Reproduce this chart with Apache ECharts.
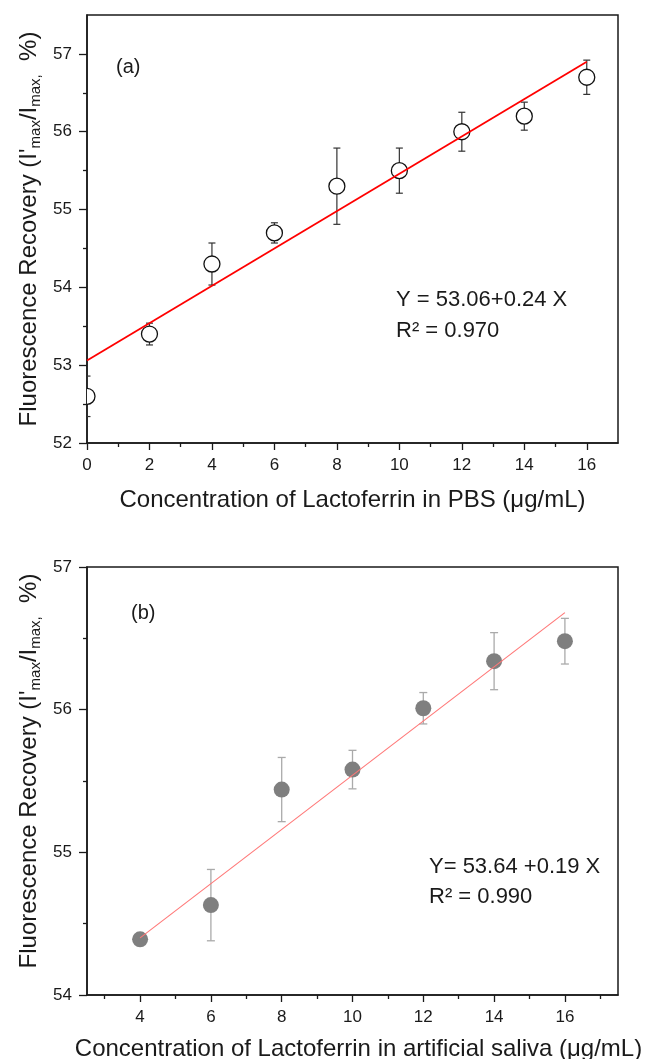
<!DOCTYPE html>
<html>
<head>
<meta charset="utf-8">
<script src="https://cdn.jsdelivr.net/npm/echarts@6/dist/echarts.min.js"></script>
<style>
  html, body { margin: 0; padding: 0; background: #fff; }
  #chart { width: 649px; height: 1059px; }
</style>
</head>
<body>
<div id="chart"></div>
<script>
// Panel (a): lactoferrin in PBS
const concA = [0, 2, 4, 6, 8, 10, 12, 14, 16];
const recoveryA = [52.6, 53.4, 54.3, 54.7, 55.3, 55.5, 56.0, 56.2, 56.7];
const errorA = [0.26, 0.14, 0.27, 0.13, 0.49, 0.29, 0.25, 0.18, 0.22];
const fitA = [53.06, 0.24];          // intercept, slope
const fitRangeA = [0, 16];
const r2A = '0.970';

// Panel (b): lactoferrin in artificial saliva
const concB = [4, 6, 8, 10, 12, 14, 16];
const recoveryB = [54.39, 54.63, 55.44, 55.58, 56.01, 56.34, 56.48];
const errorB = [0, 0.25, 0.225, 0.135, 0.11, 0.2, 0.16];
const fitB = [53.64, 0.19];
const fitRangeB = [4, 16];
const r2B = '0.990';

// Axis ticks
const xMajorA = [0, 2, 4, 6, 8, 10, 12, 14, 16];
const xMinorA = [1, 3, 5, 7, 9, 11, 13, 15];
const yMajorA = [52, 53, 54, 55, 56, 57];
const yMinorA = [52.5, 53.5, 54.5, 55.5, 56.5];
const xMajorB = [4, 6, 8, 10, 12, 14, 16];
const xMinorB = [3, 5, 7, 9, 11, 13, 15, 17];
const yMajorB = [54, 55, 56, 57];
const yMinorB = [54.5, 55.5, 56.5];

const xTitleA = 'Concentration of Lactoferrin in PBS (\u03bcg/mL)';
const xTitleB = 'Concentration of Lactoferrin in artificial saliva (\u03bcg/mL)';
const yTitle = "{m|Fluorescence Recovery (I'}{s|max}{m|/I}{s|max,}{m|  %)}";

const FONT = '"Liberation Sans", Arial, sans-serif';
const INK = '#1a1a1a';

const yTitleRich = {
  m: { fontSize: 24, fontFamily: FONT, color: INK, lineHeight: 26, verticalAlign: 'top' },
  s: { fontSize: 15, fontFamily: FONT, color: INK, lineHeight: 8, verticalAlign: 'bottom' }
};

function fitLine(coef, range) {
  return range.map(x => [x, coef[0] + coef[1] * x]);
}

function majorAxis(gridIndex, min, max, ticks, extra) {
  return Object.assign({
    type: 'value', gridIndex, min, max,
    axisLine: { show: true, onZero: false, lineStyle: { color: INK, width: 1.5 } },
    axisTick: { show: true, inside: false, length: 7, customValues: ticks, lineStyle: { color: INK, width: 1.3 } },
    axisLabel: { show: true, customValues: ticks, fontSize: 17, fontFamily: FONT, color: INK, margin: 14 },
    splitLine: { show: false },
    nameMoveOverlap: false
  }, extra || {});
}

function minorAxis(gridIndex, min, max, ticks, position) {
  return {
    type: 'value', gridIndex, min, max, position,
    axisLine: { show: false, onZero: false },
    axisTick: { show: true, inside: false, length: 4, customValues: ticks, lineStyle: { color: INK, width: 1.3 } },
    axisLabel: { show: false },
    splitLine: { show: false }
  };
}

// error bars with caps and a clipped circular marker per point
function pointRenderer(opts) {
  return function (params, api) {
    const x = api.value(0), y = api.value(1), e = api.value(2);
    const c = api.coord([x, y]);
    const hi = api.coord([x, y + e]);
    const lo = api.coord([x, y - e]);
    const bar = { stroke: opts.barColor, lineWidth: opts.barWidth };
    const children = [];
    if (e > 0) {
      children.push(
        { type: 'line', shape: { x1: hi[0], y1: hi[1], x2: lo[0], y2: lo[1] }, style: bar },
        { type: 'line', shape: { x1: hi[0] - opts.cap, y1: hi[1], x2: hi[0] + opts.cap, y2: hi[1] }, style: bar },
        { type: 'line', shape: { x1: lo[0] - opts.cap, y1: lo[1], x2: lo[0] + opts.cap, y2: lo[1] }, style: bar }
      );
    }
    children.push({
      type: 'circle',
      shape: { cx: c[0], cy: c[1], r: opts.r },
      style: { fill: opts.fill, stroke: opts.stroke, lineWidth: opts.strokeWidth }
    });
    return { type: 'group', children };
  };
}

const chart = echarts.init(document.getElementById('chart'), null, { renderer: 'canvas' });

chart.setOption({
  animation: false,
  backgroundColor: '#fff',
  grid: [
    { left: 87, top: 15, width: 531, height: 428, show: true, borderColor: INK, borderWidth: 1.5,
      backgroundColor: 'transparent', containLabel: false, outerBoundsMode: 'none' },
    { left: 87, top: 567, width: 531, height: 428, show: true, borderColor: INK, borderWidth: 1.5,
      backgroundColor: 'transparent', containLabel: false, outerBoundsMode: 'none' }
  ],
  xAxis: [
    majorAxis(0, 0, 17, xMajorA, {
      position: 'bottom', name: xTitleA, nameLocation: 'middle', nameGap: 45,
      nameTextStyle: { fontSize: 24, fontFamily: FONT, color: INK }
    }),
    minorAxis(0, 0, 17, xMinorA, 'bottom'),
    majorAxis(1, 2.5, 17.5, xMajorB, {
      position: 'bottom', name: xTitleB, nameLocation: 'middle', nameGap: 42,
      nameTextStyle: { fontSize: 24, fontFamily: FONT, color: INK, padding: [0, 0, 0, 12] }
    }),
    minorAxis(1, 2.5, 17.5, xMinorB, 'bottom')
  ],
  yAxis: [
    majorAxis(0, 52, 57.5, yMajorA, {
      position: 'left', name: yTitle, nameLocation: 'middle', nameRotate: 90, nameGap: 44,
      axisTick: { show: true, inside: false, length: 8, customValues: yMajorA, lineStyle: { color: INK, width: 1.3 } },
      axisLabel: { show: true, customValues: yMajorA, fontSize: 17, fontFamily: FONT, color: INK, margin: 15 },
      nameTextStyle: { rich: yTitleRich }
    }),
    minorAxis(0, 52, 57.5, yMinorA, 'left'),
    majorAxis(1, 54, 57, yMajorB, {
      position: 'left', name: yTitle, nameLocation: 'middle', nameRotate: 90, nameGap: 44,
      axisTick: { show: true, inside: false, length: 8, customValues: yMajorB, lineStyle: { color: INK, width: 1.3 } },
      axisLabel: { show: true, customValues: yMajorB, fontSize: 17, fontFamily: FONT, color: INK, margin: 15 },
      nameTextStyle: { rich: yTitleRich, padding: [0, 0, 0, 20] }
    }),
    minorAxis(1, 54, 57, yMinorB, 'left')
  ],
  series: [
    {
      type: 'custom', xAxisIndex: 0, yAxisIndex: 0, clip: true, z: 2,
      data: concA.map((x, i) => [x, recoveryA[i], errorA[i]]),
      encode: { x: 0, y: 1 },
      renderItem: pointRenderer({ r: 8, fill: '#ffffff', stroke: '#111', strokeWidth: 1.3,
        barColor: '#333', barWidth: 1.2, cap: 3.5 })
    },
    {
      type: 'line', xAxisIndex: 0, yAxisIndex: 0, z: 3, symbol: 'none',
      data: fitLine(fitA, fitRangeA),
      lineStyle: { color: '#ff0000', width: 1.8 }
    },
    {
      type: 'custom', xAxisIndex: 2, yAxisIndex: 2, clip: true, z: 2,
      data: concB.map((x, i) => [x, recoveryB[i], errorB[i]]),
      encode: { x: 0, y: 1 },
      renderItem: pointRenderer({ r: 8, fill: '#7f7f7f', stroke: 'none', strokeWidth: 0,
        barColor: '#aaaaaa', barWidth: 1.3, cap: 4 })
    },
    {
      type: 'line', xAxisIndex: 2, yAxisIndex: 2, z: 3, symbol: 'none',
      data: fitLine(fitB, fitRangeB),
      lineStyle: { color: '#ff7777', width: 1.1 }
    }
  ],
  graphic: [
    { type: 'text', x: 116, y: 67, style: { text: '(a)', fontSize: 20, fontFamily: FONT, fill: INK, verticalAlign: 'middle' } },
    { type: 'text', x: 396, y: 300, style: { text: 'Y = ' + fitA[0].toFixed(2) + '+' + fitA[1].toFixed(2) + ' X',
      fontSize: 22, fontFamily: FONT, fill: INK, verticalAlign: 'middle' } },
    { type: 'text', x: 396, y: 331, style: { text: 'R\u00b2 = ' + r2A,
      fontSize: 22, fontFamily: FONT, fill: INK, verticalAlign: 'middle' } },
    { type: 'text', x: 131, y: 613, style: { text: '(b)', fontSize: 20, fontFamily: FONT, fill: INK, verticalAlign: 'middle' } },
    { type: 'text', x: 429, y: 867, style: { text: 'Y= ' + fitB[0].toFixed(2) + ' +' + fitB[1].toFixed(2) + ' X',
      fontSize: 22, fontFamily: FONT, fill: INK, verticalAlign: 'middle' } },
    { type: 'text', x: 429, y: 897, style: { text: 'R\u00b2 = ' + r2B,
      fontSize: 22, fontFamily: FONT, fill: INK, verticalAlign: 'middle' } }
  ]
});
</script>
</body>
</html>
